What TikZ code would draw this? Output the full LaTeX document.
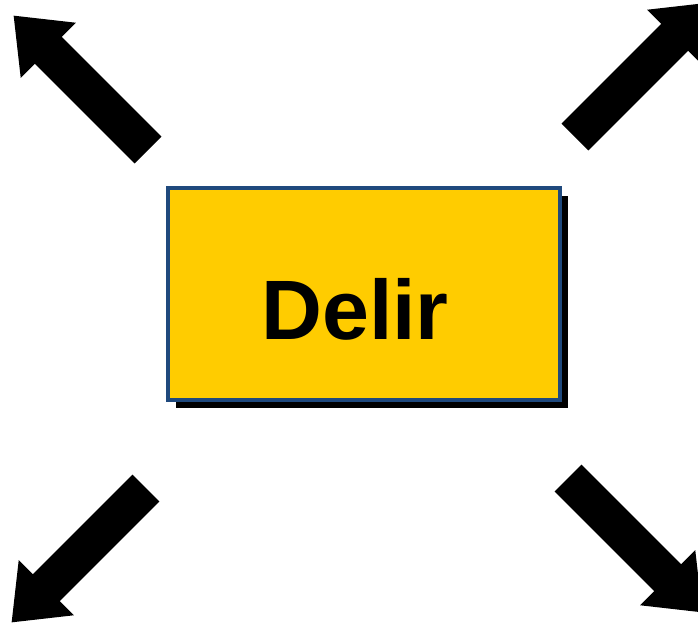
\documentclass[tikz,border=0pt]{standalone}
\usepackage{fontspec}
\setmainfont{Liberation Sans}
\usetikzlibrary{shadows}
\definecolor{boxfill}{RGB}{255,204,0}
\definecolor{boxedge}{RGB}{31,73,125}

\begin{document}
\begin{tikzpicture}[x=0.02cm,y=-0.02cm,
  delirbox/.style={draw=boxedge,line width=0.08cm,fill=boxfill,inner sep=0pt,
    minimum width=7.84cm,minimum height=4.24cm,
    drop shadow={shadow xshift=0.16cm,shadow yshift=-0.16cm,opacity=1,fill=black}},
  blockarrow/.pic={\fill[black] (0,-19) -- (141,-19) -- (141,-39) -- (190,0)
    -- (141,39) -- (141,19) -- (0,19) -- cycle;}]
  % page frame (arrow heads run off the edge)
  \clip (0,0) rectangle (698,623);
  % the box and its label
  \node[delirbox] (delir) at (364,294) {};
  \node[font=\bfseries\fontsize{48}{48}\selectfont,inner sep=0pt] (delirlabel) at (355,309) {Delir};
  % four arrows pointing out, tail centre / angle
  \foreach \x/\y/\a in {148/150/135,575/137/45,146/488/225,568/478/-45}{%
    \pic[rotate=\a] at (\x,\y) {blockarrow};}
\end{tikzpicture}
\end{document}
